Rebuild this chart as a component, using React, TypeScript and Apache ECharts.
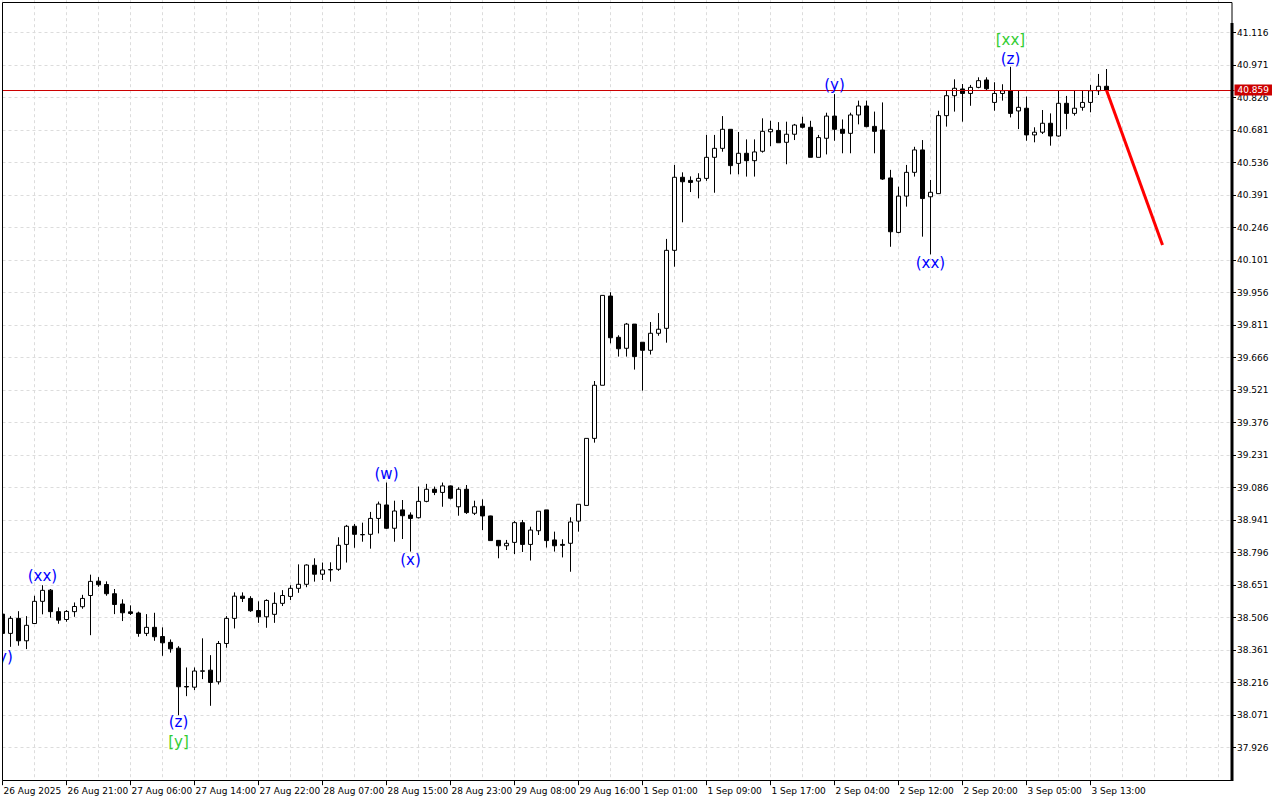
import React, { useEffect, useRef } from 'react';
import * as echarts from 'echarts';

// Hourly candles (open, close, low, high)
const candleOpen = [
  38.522, 38.436, 38.503, 38.403, 38.480, 38.579, 38.629, 38.533, 38.498, 38.533,
  38.555, 38.605, 38.669, 38.654, 38.613, 38.567, 38.532, 38.527, 38.436, 38.463,
  38.422, 38.396, 38.370, 38.199, 38.196, 38.267, 38.272, 38.220, 38.391, 38.503,
  38.602, 38.592, 38.538, 38.510, 38.521, 38.570, 38.601, 38.637, 38.655, 38.740,
  38.700, 38.719, 38.722, 38.833, 38.914, 38.877, 38.878, 38.949, 39.009, 38.905,
  38.987, 38.964, 38.952, 39.025, 39.079, 39.065, 39.094, 39.001, 39.079, 38.972,
  39.003, 38.960, 38.851, 38.827, 38.842, 38.930, 38.833, 38.894, 38.987, 38.853,
  38.833, 38.838, 38.937, 39.007, 39.306, 39.543, 39.941, 39.757, 39.708, 39.816,
  39.735, 39.699, 39.775, 39.797, 40.145, 40.471, 40.457, 40.454, 40.466, 40.560,
  40.600, 40.685, 40.533, 40.578, 40.545, 40.587, 40.674, 40.680, 40.627, 40.663,
  40.709, 40.694, 40.560, 40.645, 40.744, 40.685, 40.667, 40.749, 40.789, 40.698,
  40.682, 40.468, 40.225, 40.387, 40.493, 40.593, 40.384, 40.398, 40.746, 40.835,
  40.865, 40.845, 40.872, 40.905, 40.805, 40.845, 40.857, 40.767, 40.779, 40.660,
  40.672, 40.712, 40.655, 40.801, 40.756, 40.783, 40.805, 40.857, 40.877,
];
const candleClose = [
  38.436, 38.503, 38.403, 38.472, 38.579, 38.628, 38.533, 38.495, 38.534, 38.556,
  38.592, 38.668, 38.653, 38.613, 38.565, 38.528, 38.525, 38.436, 38.463, 38.421,
  38.394, 38.367, 38.198, 38.197, 38.268, 38.269, 38.217, 38.391, 38.503, 38.602,
  38.592, 38.537, 38.510, 38.583, 38.570, 38.605, 38.637, 38.655, 38.741, 38.700,
  38.719, 38.721, 38.829, 38.914, 38.878, 38.876, 38.949, 39.013, 38.905, 38.982,
  38.961, 38.949, 39.025, 39.079, 39.065, 39.094, 39.039, 39.079, 38.975, 39.001,
  38.960, 38.850, 38.827, 38.838, 38.930, 38.833, 38.897, 38.981, 38.850, 38.827,
  38.829, 38.933, 39.012, 39.306, 39.543, 39.944, 39.755, 39.706, 39.816, 39.671,
  39.699, 39.775, 39.793, 40.145, 40.471, 40.451, 40.448, 40.466, 40.560, 40.600,
  40.685, 40.523, 40.578, 40.545, 40.584, 40.676, 40.685, 40.625, 40.663, 40.704,
  40.694, 40.560, 40.648, 40.744, 40.685, 40.667, 40.749, 40.789, 40.697, 40.676,
  40.463, 40.228, 40.387, 40.493, 40.593, 40.376, 40.404, 40.746, 40.835, 40.868,
  40.845, 40.872, 40.902, 40.866, 40.845, 40.857, 40.756, 40.783, 40.660, 40.672,
  40.712, 40.655, 40.801, 40.756, 40.779, 40.805, 40.857, 40.877, 40.859,
];
const candleLow = [
  38.420, 38.376, 38.381, 38.366, 38.478, 38.521, 38.506, 38.479, 38.488, 38.510,
  38.546, 38.428, 38.644, 38.604, 38.522, 38.491, 38.518, 38.421, 38.424, 38.403,
  38.336, 38.350, 38.071, 38.156, 38.183, 38.232, 38.113, 38.208, 38.372, 38.458,
  38.576, 38.532, 38.483, 38.461, 38.483, 38.558, 38.585, 38.617, 38.642, 38.667,
  38.674, 38.667, 38.715, 38.752, 38.818, 38.845, 38.814, 38.882, 38.902, 38.845,
  38.857, 38.801, 38.949, 39.021, 39.053, 39.001, 39.034, 38.961, 38.969, 38.964,
  38.897, 38.850, 38.771, 38.808, 38.790, 38.799, 38.761, 38.875, 38.819, 38.801,
  38.775, 38.711, 38.890, 39.007, 39.287, 39.543, 39.730, 39.671, 39.671, 39.613,
  39.519, 39.680, 39.764, 39.733, 40.072, 40.270, 40.405, 40.377, 40.455, 40.402,
  40.585, 40.484, 40.484, 40.474, 40.474, 40.581, 40.610, 40.625, 40.529, 40.637,
  40.689, 40.560, 40.560, 40.573, 40.634, 40.578, 40.578, 40.707, 40.694, 40.578,
  40.459, 40.161, 40.221, 40.340, 40.474, 40.206, 40.127, 40.398, 40.697, 40.764,
  40.719, 40.790, 40.868, 40.860, 40.768, 40.813, 40.738, 40.686, 40.634, 40.627,
  40.664, 40.612, 40.652, 40.685, 40.746, 40.768, 40.761, 40.838, 40.859,
];
const candleHigh = [
  38.530, 38.513, 38.535, 38.513, 38.604, 38.651, 38.634, 38.552, 38.540, 38.574,
  38.608, 38.698, 38.687, 38.668, 38.634, 38.588, 38.561, 38.533, 38.522, 38.528,
  38.463, 38.409, 38.379, 38.284, 38.284, 38.414, 38.339, 38.402, 38.513, 38.619,
  38.619, 38.602, 38.579, 38.588, 38.619, 38.629, 38.651, 38.744, 38.744, 38.771,
  38.752, 38.753, 38.865, 38.920, 38.924, 38.930, 38.978, 39.024, 39.109, 39.028,
  39.031, 38.976, 39.091, 39.103, 39.091, 39.109, 39.096, 39.088, 39.098, 39.028,
  39.034, 38.961, 38.851, 38.853, 38.937, 38.942, 38.912, 38.981, 38.987, 38.890,
  38.856, 38.954, 39.013, 39.306, 39.562, 39.944, 39.958, 39.766, 39.821, 39.816,
  39.735, 39.825, 39.865, 40.196, 40.526, 40.493, 40.475, 40.489, 40.660, 40.660,
  40.744, 40.685, 40.673, 40.640, 40.640, 40.734, 40.723, 40.717, 40.719, 40.709,
  40.741, 40.723, 40.660, 40.759, 40.842, 40.729, 40.759, 40.813, 40.813, 40.764,
  40.805, 40.504, 40.429, 40.526, 40.607, 40.637, 40.459, 40.768, 40.860, 40.908,
  40.887, 40.883, 40.917, 40.917, 40.895, 40.886, 40.964, 40.856, 40.831, 40.694,
  40.771, 40.756, 40.857, 40.834, 40.857, 40.857, 40.883, 40.932, 40.954,
];

const timeLabels = [
  '26 Aug 2025', '26 Aug 21:00', '27 Aug 06:00', '27 Aug 14:00', '27 Aug 22:00',
  '28 Aug 07:00', '28 Aug 15:00', '28 Aug 23:00', '29 Aug 08:00', '29 Aug 16:00',
  '1 Sep 01:00', '1 Sep 09:00', '1 Sep 17:00', '2 Sep 04:00', '2 Sep 12:00',
  '2 Sep 20:00', '3 Sep 05:00', '3 Sep 13:00',
];

const yTicks = [
  41.116, 40.971, 40.826, 40.681, 40.536, 40.391, 40.246, 40.101, 39.956, 39.811,
  39.666, 39.521, 39.376, 39.231, 39.086, 38.941, 38.796, 38.651, 38.506, 38.361,
  38.216, 38.071, 37.926,
];

const lastPrice = 40.859;
const lastPriceLabel = '40.859';
const projectionIndex = [138, 145];
const projectionValue = [40.859, 40.169];

const waveText = ['(y)', '(xx)', '(z)', '[y]', '(w)', '(x)', '(y)', '(xx)', '[xx]', '(z)'];
const waveIndex = [0, 5, 22, 22, 48, 51, 104, 116, 126, 126];
const waveValue = [38.331, 38.692, 38.041, 37.951, 39.147, 38.763, 40.883, 40.088, 41.083, 40.999];
const waveColor = ['#0000ff', '#0000ff', '#0000ff', '#32cd32', '#0000ff', '#0000ff', '#0000ff', '#0000ff', '#32cd32', '#0000ff'];

const CATEGORY_COUNT = 155;

export default function App() {
  const ref = useRef<HTMLDivElement>(null);
  useEffect(() => {
    if (!ref.current) return;
    const chart = echarts.init(ref.current, null, { renderer: 'svg' });
    const font = 'DejaVu Sans';
    const candles = candleOpen.map((o, i) => [o, candleClose[i], candleLow[i], candleHigh[i]]);
    const cats = Array.from({ length: CATEGORY_COUNT }, (_, i) => String(i));
    const isLabel = (i: number) => i % 8 === 0 && i / 8 < timeLabels.length;
    const gridColor = '#dcdcdc';

    chart.setOption({
      animation: false,
      backgroundColor: '#ffffff',
      grid: { left: 2.5, top: 0.2, width: 1232, height: 780 },
      xAxis: {
        type: 'category',
        data: cats,
        boundaryGap: false,
        axisLine: { show: false },
        axisTick: {
          show: true,
          interval: (i: number) => isLabel(i),
          length: 5,
          lineStyle: { color: '#000', width: 1 },
        },
        axisLabel: {
          show: true,
          interval: (i: number) => isLabel(i),
          formatter: (v: string) => {
            const i = Number(v);
            return isLabel(i) ? timeLabels[i / 8] : '';
          },
          align: 'left',
          margin: 6,
          padding: [0, 0, 0, 1],
          color: '#000',
          fontSize: 9,
          fontFamily: font,
        },
        splitLine: {
          show: true,
          interval: (i: number) => i % 4 === 0,
          lineStyle: { color: gridColor, width: 1, type: [3, 3] },
        },
      },
      yAxis: {
        type: 'value',
        position: 'right',
        min: 37.781,
        max: 41.261,
        offset: -2.5,
        axisLine: { show: false },
        axisTick: {
          show: true,
          customValues: yTicks,
          length: 4,
          lineStyle: { color: '#000', width: 1 },
        },
        axisLabel: {
          show: true,
          customValues: yTicks,
          formatter: (v: number) => v.toFixed(3),
          margin: 5,
          color: '#000',
          fontSize: 9,
          fontFamily: font,
        },
        splitLine: {
          show: true,
          lineStyle: { color: gridColor, width: 1, type: [3, 3] },
        },
      },
      graphic: [
        {
          type: 'rect',
          z: 99,
          silent: true,
          shape: { x: 0, y: 0, width: 2.5, height: 781 },
          style: { fill: '#ffffff', stroke: 'none' },
        },
        {
          type: 'rect',
          z: 100,
          silent: true,
          shape: { x: 2.5, y: 2.5, width: 1229.5, height: 778 },
          style: { fill: 'none', stroke: '#000', lineWidth: 1 },
        },
        {
          type: 'line',
          z: 100,
          silent: true,
          shape: { x1: 1232, y1: 23, x2: 1232, y2: 781 },
          style: { stroke: '#000', lineWidth: 3 },
        },
      ],
      series: [
        {
          type: 'candlestick',
          data: candles,
          barWidth: 5,
          clip: true,
          itemStyle: {
            color: '#ffffff',
            color0: '#000000',
            borderColor: '#000000',
            borderColor0: '#000000',
            borderWidth: 1,
          },
          markLine: {
            silent: true,
            symbol: ['none', 'none'],
            data: [{ yAxis: lastPrice }],
            lineStyle: { color: '#cc0000', width: 1, type: 'solid' },
            label: {
              show: true,
              position: 'end',
              distance: 0,
              formatter: () => lastPriceLabel,
              color: '#ffffff',
              backgroundColor: '#cc0000',
              padding: [1, 3, 1, 3],
              fontSize: 9,
              fontFamily: font,
            },
          },
        },
        {
          type: 'line',
          data: projectionIndex.map((x, i) => [x, projectionValue[i]]),
          symbol: 'none',
          z: 5,
          lineStyle: { color: '#ff0000', width: 3 },
        },
        {
          type: 'scatter',
          symbolSize: 0,
          z: 6,
          itemStyle: { opacity: 1 },
          data: waveText.map((t, i) => ({
            name: t,
            value: [waveIndex[i], waveValue[i]],
            label: { color: waveColor[i] },
          })),
          label: {
            show: true,
            position: 'inside',
            formatter: '{b}',
            fontSize: 15,
            fontFamily: font,
            opacity: 1,
          },
        },
      ],
    });
    return () => chart.dispose();
  }, []);
  return (
    <div
      ref={ref}
      style={{ position: 'absolute', left: 0, top: 0, width: 1280, height: 800 }}
    />
  );
}
